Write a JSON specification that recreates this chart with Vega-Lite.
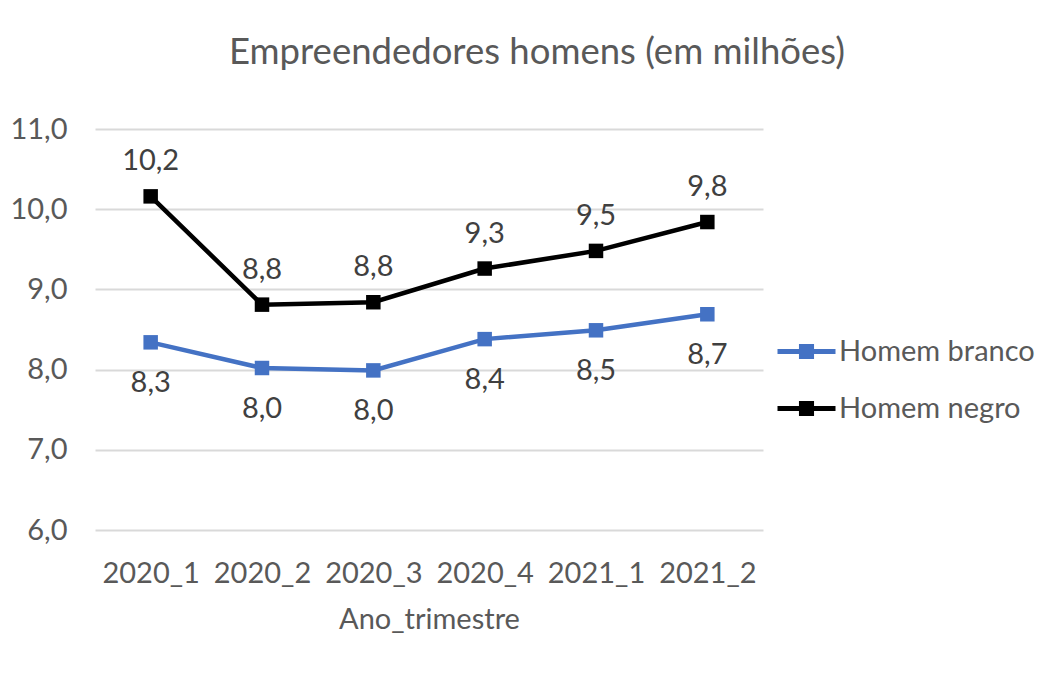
{
  "$schema": "https://vega.github.io/schema/vega-lite/v6.json",
  "width": 668,
  "height": 401,
  "autosize": {"type": "none"},
  "padding": {"left": 95, "top": 129, "right": 297, "bottom": 147},
  "background": "white",
  "title": {
    "text": "Empreendedores homens (em milhões)",
    "font": "Lato",
    "fontSize": 36.5,
    "fontWeight": "normal",
    "color": "#595959",
    "anchor": "middle",
    "dx": 108,
    "baseline": "alphabetic",
    "offset": 15,
    "limit": 900
  },
  "data": {
    "values": [
      {"t": "2020_1", "serie": "Homem branco", "v": 8.34},
      {"t": "2020_2", "serie": "Homem branco", "v": 8.02},
      {"t": "2020_3", "serie": "Homem branco", "v": 7.99},
      {"t": "2020_4", "serie": "Homem branco", "v": 8.38},
      {"t": "2021_1", "serie": "Homem branco", "v": 8.49},
      {"t": "2021_2", "serie": "Homem branco", "v": 8.69},
      {"t": "2020_1", "serie": "Homem negro", "v": 10.16},
      {"t": "2020_2", "serie": "Homem negro", "v": 8.81},
      {"t": "2020_3", "serie": "Homem negro", "v": 8.84},
      {"t": "2020_4", "serie": "Homem negro", "v": 9.26},
      {"t": "2021_1", "serie": "Homem negro", "v": 9.48},
      {"t": "2021_2", "serie": "Homem negro", "v": 9.84}
    ]
  },
  "encoding": {
    "x": {
      "field": "t",
      "type": "nominal",
      "scale": {"type": "point", "padding": 0.5},
      "axis": {
        "title": "Ano_trimestre",
        "labelAngle": 0,
        "grid": false,
        "domain": false,
        "ticks": false,
        "tickSize": 0,
        "labelPadding": 52,
        "labelBaseline": "alphabetic",
        "titleBaseline": "alphabetic",
        "titleY": 98
      }
    },
    "y": {
      "field": "v",
      "type": "quantitative",
      "scale": {"domain": [6, 11], "nice": false, "zero": false},
      "axis": {
        "title": null,
        "values": [6, 7, 8, 9, 10, 11],
        "format": ".1f",
        "grid": true,
        "gridColor": "#D9D9D9",
        "gridWidth": 2,
        "domain": false,
        "ticks": false,
        "tickSize": 0,
        "labelPadding": 28
      }
    }
  },
  "layer": [
    {
      "mark": {"type": "line", "strokeWidth": 4.5},
      "encoding": {
        "color": {
          "field": "serie",
          "type": "nominal",
          "scale": {"domain": ["Homem branco", "Homem negro"], "range": ["#4472C4", "#000000"]},
          "legend": {
            "title": null,
            "orient": "none",
            "legendX": 697,
            "legendY": 208,
            "padding": 0,
            "symbolType": "M-2,-0.17H2V0.17H-2Z M-0.52,-0.52H0.52V0.52H-0.52Z",
            "symbolSize": 841,
            "symbolStrokeWidth": 0,
            "labelOffset": 18,
            "rowPadding": 27,
            "labelFont": "Lato",
            "labelFontSize": 29,
            "labelColor": "#595959",
            "labelBaseline": "middle",
            "labelLimit": 400,
            "encode": {
              "symbols": {
                "update": {
                  "fill": {"scale": "color", "field": "value"},
                  "strokeWidth": {"value": 0}
                }
              }
            }
          }
        }
      }
    },
    {
      "mark": {"type": "point", "shape": "square", "filled": true, "opacity": 1, "size": 210},
      "encoding": {
        "color": {
          "field": "serie",
          "type": "nominal",
          "scale": {"domain": ["Homem branco", "Homem negro"], "range": ["#4472C4", "#000000"]}
        }
      }
    },
    {
      "transform": [{"filter": "datum.serie === 'Homem negro'"}],
      "mark": {"type": "text", "dy": -26, "baseline": "alphabetic", "font": "Lato", "fontSize": 29, "color": "#404040"},
      "encoding": {"text": {"field": "v", "type": "quantitative", "format": ".1f"}}
    },
    {
      "transform": [{"filter": "datum.serie === 'Homem branco'"}],
      "mark": {"type": "text", "dy": 50, "baseline": "alphabetic", "font": "Lato", "fontSize": 29, "color": "#404040"},
      "encoding": {"text": {"field": "v", "type": "quantitative", "format": ".1f"}}
    }
  ],
  "config": {
    "locale": {"number": {"decimal": ",", "thousands": ".", "grouping": [3], "currency": ["R$", ""]}},
    "view": {"stroke": null},
    "axis": {
      "labelFont": "Lato",
      "labelFontSize": 29,
      "labelColor": "#595959",
      "titleFont": "Lato",
      "titleFontSize": 29,
      "titleColor": "#595959",
      "titleFontWeight": "normal"
    }
  }
}
